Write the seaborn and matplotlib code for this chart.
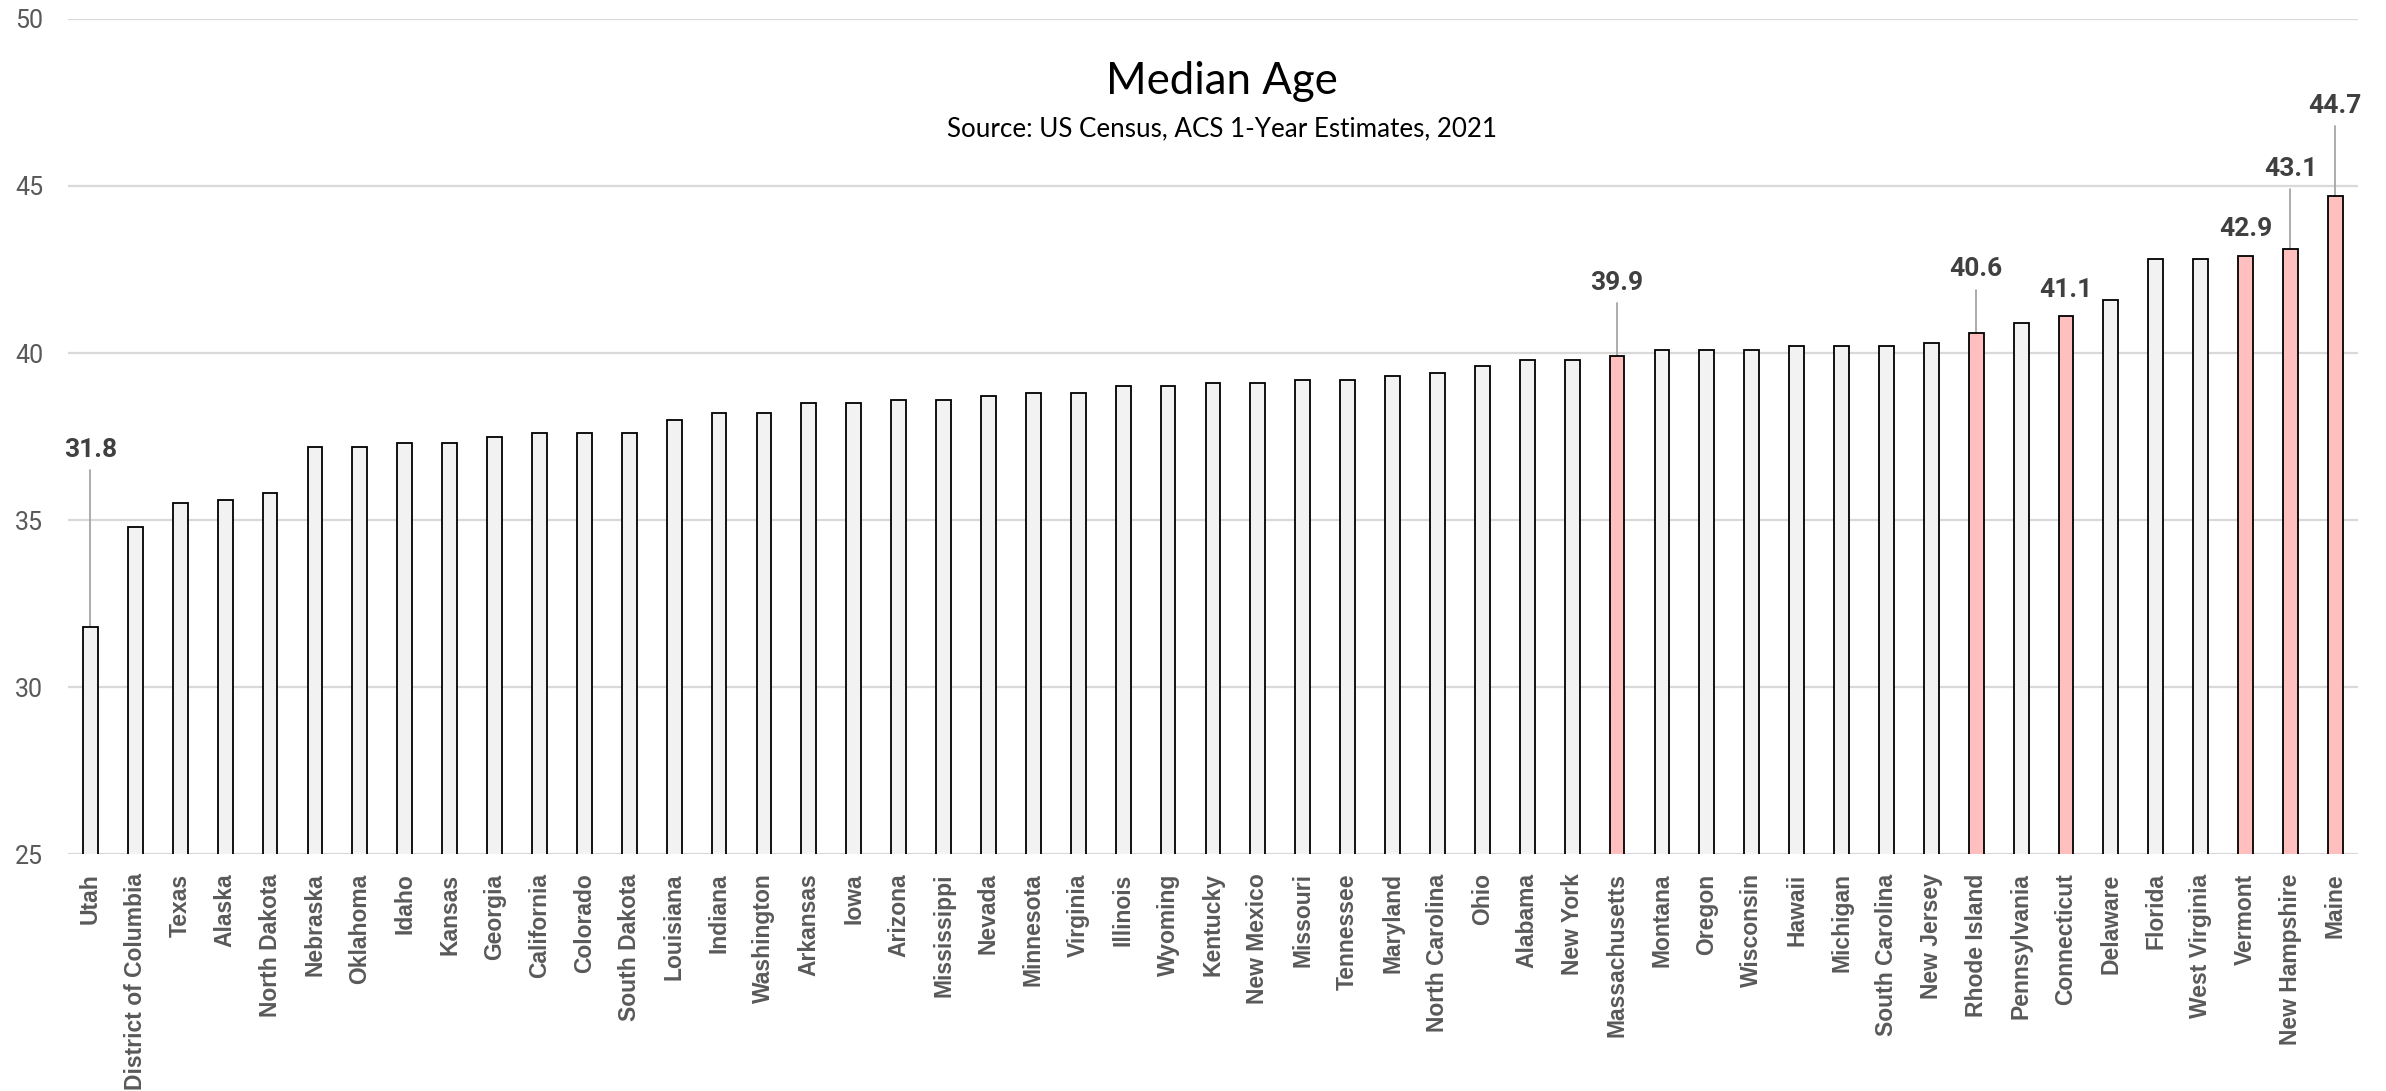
import matplotlib
matplotlib.use("Agg")
import matplotlib.pyplot as plt
import seaborn as sns
import pandas as pd

# Median age by state, ACS 1-year estimates 2021 (sorted ascending)
states = [
    "Utah", "District of Columbia", "Texas", "Alaska", "North Dakota", "Nebraska",
    "Oklahoma", "Idaho", "Kansas", "Georgia", "California", "Colorado",
    "South Dakota", "Louisiana", "Indiana", "Washington", "Arkansas", "Iowa",
    "Arizona", "Mississippi", "Nevada", "Minnesota", "Virginia", "Illinois",
    "Wyoming", "Kentucky", "New Mexico", "Missouri", "Tennessee", "Maryland",
    "North Carolina", "Ohio", "Alabama", "New York", "Massachusetts", "Montana",
    "Oregon", "Wisconsin", "Hawaii", "Michigan", "South Carolina", "New Jersey",
    "Rhode Island", "Pennsylvania", "Connecticut", "Delaware", "Florida",
    "West Virginia", "Vermont", "New Hampshire", "Maine",
]
median_age = [
    31.8, 34.8, 35.5, 35.6, 35.8, 37.2,
    37.2, 37.3, 37.3, 37.5, 37.6, 37.6,
    37.6, 38.0, 38.2, 38.2, 38.5, 38.5,
    38.6, 38.6, 38.7, 38.8, 38.8, 39.0,
    39.0, 39.1, 39.1, 39.2, 39.2, 39.3,
    39.4, 39.6, 39.8, 39.8, 39.9, 40.1,
    40.1, 40.1, 40.2, 40.2, 40.2, 40.3,
    40.6, 40.9, 41.1, 41.6, 42.8,
    42.8, 42.9, 43.1, 44.7,
]
new_england = ["Massachusetts", "Rhode Island", "Connecticut",
               "Vermont", "New Hampshire", "Maine"]
labeled = ["Utah"] + new_england

# vertical placement of the value callouts (data units)
label_heights = {
    "Utah": 37.1, "Massachusetts": 42.1, "Rhode Island": 42.5,
    "Connecticut": 41.9, "Vermont": 43.7, "New Hampshire": 45.5, "Maine": 47.4,
}

df = pd.DataFrame({"state": states, "age": median_age})
df["group"] = ["New England" if s in new_england else "Other" for s in states]

sns.set_style("white")
plt.rcParams["font.family"] = ["Roboto", "DejaVu Sans"]

fig = plt.figure(figsize=(23.86, 10.91), dpi=100)
ax = fig.add_axes([0.0285, 0.2172, 0.9597, 0.7654])

sns.barplot(
    data=df, x="state", y="age", hue="group",
    palette={"Other": "#F2F2F2", "New England": "#FFBFBF"},
    order=states, dodge=False, width=0.33, saturation=1,
    edgecolor="black", linewidth=1.3, legend=False, ax=ax, zorder=3,
)

ax.set_ylim(25, 50)
ax.set_xlim(-0.5, len(states) - 0.5)
ax.set_yticks([25, 30, 35, 40, 45, 50])
ax.yaxis.grid(True, color="#D9D9D9", linewidth=1.6, zorder=0)
ax.set_axisbelow(True)
for sp in ax.spines.values():
    sp.set_visible(False)
ax.set_xlabel("")
ax.set_ylabel("")
ax.tick_params(axis="y", length=0, pad=18, labelsize=18, labelcolor="#595959")
ax.tick_params(axis="x", length=0, pad=14)
ax.set_xticks(range(len(states)))
ax.set_xticklabels(states, rotation=90, fontsize=16.5, fontweight="bold",
                   color="#595959", family=["Liberation Sans", "DejaVu Sans"])

# value callouts with leader lines
for name in labeled:
    i = states.index(name)
    v = median_age[i]
    ly = label_heights[name]
    ax.text(i, ly, f"{v:.1f}", ha="center", va="center", fontsize=19,
            fontweight="bold", color="#404040", zorder=5)
    if ly - v > 1.0:
        ax.plot([i, i], [v, ly - 0.6], color="#A6A6A6", linewidth=1.3, zorder=2)

fig.text(0.512, 0.925, "Median Age", ha="center", va="center",
         fontsize=31.5, color="black", family=["Lato", "DejaVu Sans"])
fig.text(0.512, 0.882, "Source: US Census, ACS 1-Year Estimates, 2021",
         ha="center", va="center", fontsize=18.7, color="black",
         family=["Lato", "DejaVu Sans"])

fig.savefig("out.png", dpi=100)
